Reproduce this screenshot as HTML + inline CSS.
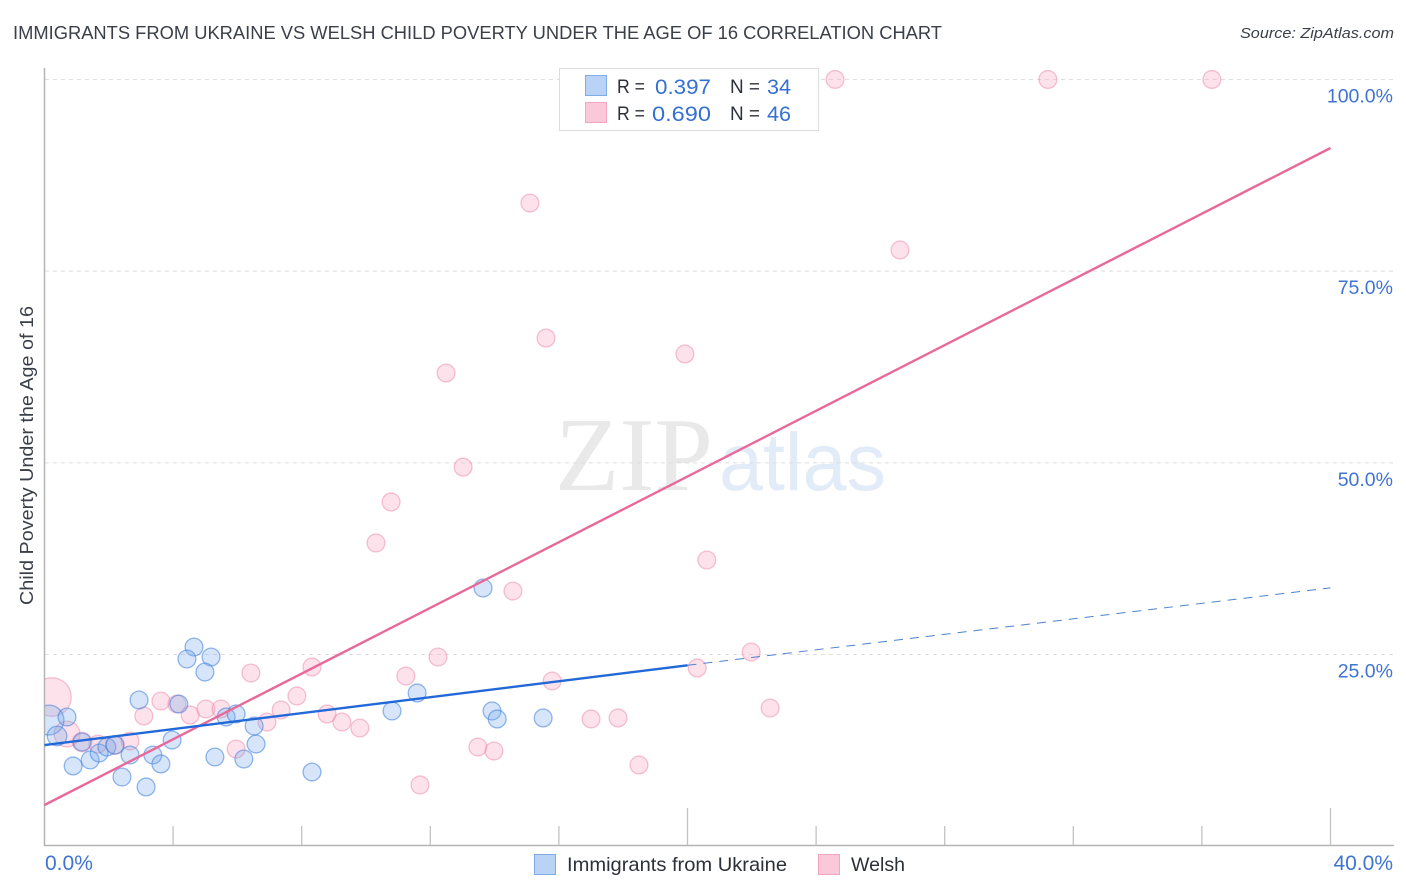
<!DOCTYPE html>
<html>
<head>
<meta charset="utf-8">
<title>Immigrants from Ukraine vs Welsh Child Poverty Correlation Chart</title>
<style>
html,body{margin:0;padding:0;background:#fff;}
body{width:1406px;height:892px;overflow:hidden;}
svg{display:block;font-family:"Liberation Sans",sans-serif;}
</style>
</head>
<body>
<svg id="chart" width="1406" height="892" viewBox="0 0 1406 892" xmlns="http://www.w3.org/2000/svg">
  <defs>
    <clipPath id="plot-clip"><rect x="45" y="60" width="1349" height="786"/></clipPath>
  </defs>
  <text x="13" y="39" font-size="18.5" fill="#3a3f48" textLength="929" lengthAdjust="spacingAndGlyphs">IMMIGRANTS FROM UKRAINE VS WELSH CHILD POVERTY UNDER THE AGE OF 16 CORRELATION CHART</text>
  <text x="1394" y="38" font-size="15" font-style="italic" fill="#3a3f48" text-anchor="end" textLength="154" lengthAdjust="spacingAndGlyphs">Source: ZipAtlas.com</text>

  <g>
    <text x="555" y="490" font-family="'Liberation Serif',serif" font-size="105" fill="#e9e9e9" textLength="158" lengthAdjust="spacingAndGlyphs">ZIP</text>
    <text x="719" y="490" font-size="82" fill="#e2ebf8" textLength="167" lengthAdjust="spacingAndGlyphs">atlas</text>
  </g>

  <g id="grid"></g>
  <g id="axes"></g>
  <g id="points" clip-path="url(#plot-clip)"></g>
  <g id="trends"></g>
  <g id="labels"></g>

  <text transform="translate(33,605) rotate(-90)" font-size="18.5" fill="#3a3f48" textLength="299" lengthAdjust="spacingAndGlyphs">Child Poverty Under the Age of 16</text>

  <g>
    <rect x="559.5" y="68.5" width="259" height="62" fill="#fff" stroke="#dddddd" stroke-width="1"/>
    <rect x="585.5" y="75.5" width="21" height="20" fill="#b9d3f7" stroke="#7fabe6" stroke-width="1"/>
    <rect x="585.5" y="102.5" width="21" height="20" fill="#fbc8da" stroke="#f2a5bf" stroke-width="1"/>
    <text x="617" y="93" font-size="19" fill="#2c3038" textLength="28" lengthAdjust="spacingAndGlyphs">R =</text>
    <text x="655" y="94" font-size="21.5" fill="#3570d2" textLength="56" lengthAdjust="spacingAndGlyphs">0.397</text>
    <text x="730" y="93" font-size="19" fill="#2c3038" textLength="30" lengthAdjust="spacingAndGlyphs">N =</text>
    <text x="767" y="94" font-size="21.5" fill="#3570d2" textLength="24" lengthAdjust="spacingAndGlyphs">34</text>
    <text x="617" y="120" font-size="19" fill="#2c3038" textLength="28" lengthAdjust="spacingAndGlyphs">R =</text>
    <text x="652" y="121" font-size="21.5" fill="#3570d2" textLength="59" lengthAdjust="spacingAndGlyphs">0.690</text>
    <text x="730" y="120" font-size="19" fill="#2c3038" textLength="30" lengthAdjust="spacingAndGlyphs">N =</text>
    <text x="767" y="121" font-size="21.5" fill="#3570d2" textLength="24" lengthAdjust="spacingAndGlyphs">46</text>
  </g>

  <g>
    <rect x="534.5" y="854.5" width="21" height="20" fill="#b9d3f7" stroke="#7fabe6" stroke-width="1"/>
    <text x="567" y="871" font-size="19.5" fill="#2c3038" textLength="220" lengthAdjust="spacingAndGlyphs">Immigrants from Ukraine</text>
    <rect x="818.5" y="854.5" width="21" height="20" fill="#fbc8da" stroke="#f2a5bf" stroke-width="1"/>
    <text x="851" y="871" font-size="19.5" fill="#2c3038" textLength="54" lengthAdjust="spacingAndGlyphs">Welsh</text>
  </g>
</svg>

<script>
// Chart data (percent values)
const yTickValues = [25, 50, 75, 100];
const yTickLabels = ["25.0%", "50.0%", "75.0%", "100.0%"];
const xTickValues = [4, 8, 12, 16, 20, 24, 28, 32, 36, 40];
const xMajorTicks = [20, 40];
const xEndLabels = ["0.0%", "40.0%"];
const xEndValues = [0, 40];

const ukraineX = [0.14,0.70,0.39,0.89,1.42,1.70,1.17,1.94,2.19,2.66,2.41,3.16,2.94,3.37,3.62,3.97,4.18,4.65,4.43,5.18,4.99,5.30,5.65,5.96,6.52,6.58,6.20,8.32,10.81,11.59,13.64,13.92,14.08,15.51];
const ukraineY = [16.46,16.85,14.38,10.47,11.25,12.16,13.59,12.94,13.2,11.9,9.03,7.73,19.07,11.9,10.73,13.85,18.55,25.98,24.42,24.68,22.72,11.64,16.86,17.25,15.68,13.33,11.38,9.68,17.64,19.99,33.68,17.64,16.6,16.73];
const ukraineWeight = [2.8,1,1.2,1,1,1,1,1,1,1,1,1,1,1,1,1,1,1,1,1,1,1,1,1,1,1,1,1,1,1,1,1,1,1];

const welshX = [0.23,0.70,1.17,1.66,2.19,2.66,3.09,3.62,4.12,4.53,5.02,5.49,5.96,6.42,6.92,7.36,7.85,8.32,8.79,9.25,9.81,10.31,10.78,11.24,11.68,12.24,12.49,13.02,13.48,13.98,14.57,15.10,15.60,15.79,17.0,17.84,18.49,19.92,20.3,20.6,21.98,22.57,24.59,26.61,31.21,36.31];
const welshY = [19.46,14.64,13.59,13.33,13.2,13.72,16.99,18.94,18.55,17.12,17.9,17.9,12.68,22.59,16.2,17.77,19.6,23.38,17.25,16.2,15.42,39.55,44.9,22.2,7.99,24.68,61.71,49.45,12.94,12.42,33.28,83.88,66.27,21.55,16.6,16.73,10.6,64.2,23.25,37.33,25.33,18.03,100,77.76,100,100];
const welshWeight = [4.7,2.1,1.2,1,1.1,1,1,1,1,1,1,1,1,1,1,1,1,1,1,1,1,1,1,1,1,1,1,1,1,1,1,1,1,1,1,1,1,1,1,1,1,1,1,1,1,1];

const ukraineTrendSolidX = [0, 20];
const ukraineTrendSolidY = [13.2, 23.6];
const ukraineTrendDashX = [20, 40];
const ukraineTrendDashY = [23.6, 33.7];
const welshTrendX = [0, 40];
const welshTrendY = [5.38, 91.06];

function xScale(v) { return 44.5 + v * 32.15; }
function yScale(v) { return 846.25 - v * 7.668; }
function rScale(w) { return 8.9 * Math.sqrt(w); }

const NS = "http://www.w3.org/2000/svg";
function make(tag, parent, props) {
  const el = document.createElementNS(NS, tag);
  for (const k in props) el.setAttribute(k, props[k]);
  parent.appendChild(el);
  return el;
}

const gridG = document.getElementById("grid");
const axesG = document.getElementById("axes");
const pointsG = document.getElementById("points");
const trendsG = document.getElementById("trends");
const labelsG = document.getElementById("labels");

yTickValues.forEach(function (v, i) {
  const y = yScale(v);
  const line = make("line", gridG, { x1: 45, x2: 1394, y1: y, y2: y, stroke: "#dedede", "stroke-width": 1, "stroke-dasharray": "4 4" });
  
  
  const label = make("text", labelsG, { x: 1393, y: y + 23, "font-size": 19.5, fill: "#3f74d2", "text-anchor": "end" });
  label.textContent = yTickLabels[i];
  
  
});

const yAxisLine = make("line", axesG, { x1: 44.5, x2: 44.5, y1: 68, y2: 846, stroke: "#b4b4b4", "stroke-width": 1.5 });


const xAxisLine = make("line", axesG, { x1: 44, x2: 1394, y1: 845.5, y2: 845.5, stroke: "#b4b4b4", "stroke-width": 1.5 });



xTickValues.forEach(function (v) {
  const x = xScale(v);
  const top = xMajorTicks.indexOf(v) >= 0 ? 808 : 826;
  const tick = make("line", axesG, { x1: x, x2: x, y1: top, y2: 845, stroke: "#c2c2c2", "stroke-width": 1.3 });
  
  
});

xEndValues.forEach(function (v, i) {
  const anchorEnd = i === 1;
  const label = make("text", labelsG, { x: anchorEnd ? 1393 : 45, y: 870, "font-size": 21, fill: "#3f74d2", "text-anchor": anchorEnd ? "end" : "start" });
  label.textContent = xEndLabels[i];
  
  
});

welshX.forEach(function (v, i) {
  const c = make("circle", pointsG, { cx: xScale(v), cy: yScale(welshY[i]), r: rScale(welshWeight[i]), fill: "rgba(248,170,195,0.34)", stroke: "rgba(232,130,165,0.48)", "stroke-width": 1.3 });
  
  
});

ukraineX.forEach(function (v, i) {
  const c = make("circle", pointsG, { cx: xScale(v), cy: yScale(ukraineY[i]), r: rScale(ukraineWeight[i]), fill: "rgba(120,170,235,0.3)", stroke: "rgba(60,125,220,0.55)", "stroke-width": 1.3 });
  
  
});

const welshTrend = make("line", trendsG, { x1: xScale(welshTrendX[0]), y1: yScale(welshTrendY[0]), x2: xScale(welshTrendX[1]), y2: yScale(welshTrendY[1]), stroke: "#e8689a", "stroke-width": 2.4 });



const ukraineSolid = make("line", trendsG, { x1: xScale(ukraineTrendSolidX[0]), y1: yScale(ukraineTrendSolidY[0]), x2: xScale(ukraineTrendSolidX[1]), y2: yScale(ukraineTrendSolidY[1]), stroke: "#2168d8", "stroke-width": 2.4 });



const ukraineDash = make("line", trendsG, { x1: xScale(ukraineTrendDashX[0]), y1: yScale(ukraineTrendDashY[0]), x2: xScale(ukraineTrendDashX[1]), y2: yScale(ukraineTrendDashY[1]), stroke: "#4f82cf", "stroke-width": 1, "stroke-dasharray": "9 7" });


</script>
</body>
</html>
